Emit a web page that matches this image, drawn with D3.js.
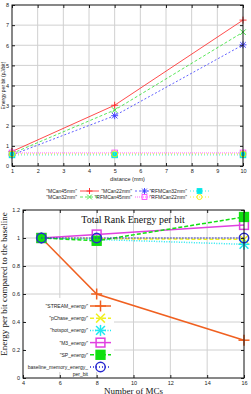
<!DOCTYPE html>
<html>
<head>
<meta charset="utf-8">
<script src="https://cdn.jsdelivr.net/npm/d3@7"></script>
<style>
  body { margin: 0; background: #fff; }
  text { font-family: "Liberation Sans", Arial, sans-serif; }
  .serif { font-family: "Liberation Serif", "Times New Roman", serif; }
</style>
</head>
<body>
<div id="chart"></div>
<script>
// top chart: energy per bit vs distance
const distances = [1, 5, 10];
const topNames = ['"MCan45mm"', '"MCan32mm"', '"MCan22mm"', '"RFMCan45mm"', '"RFMCan32mm"', '"RFMCan22mm"'];
const mcan45 = [0.72, 3.02, 7.25];
const mcan32 = [0.62, 2.78, 6.65];
const mcan22 = [0.55, 2.5, 6.02];
const rfmcan45 = [0.65, 0.65, 0.65];
const rfmcan32 = [0.55, 0.55, 0.55];
const rfmcan22 = [0.6, 0.6, 0.6];
const topXTicks = [1, 2, 3, 4, 5, 6, 7, 8, 9, 10];
const topYTicks = [0, 1, 2, 3, 4, 5, 6, 7, 8];

// bottom chart: total rank energy per bit
const numMCs = [5, 8, 16];
const botNames = ['"STREAM_energy"', '"pChase_energy"', '"hotspot_energy"', '"M3_energy"', '"SP_energy"', 'baseline_memory_energy_\nper_bit'];
const streamE = [1.0, 0.6, 0.27];
const pchaseE = [1.0, 0.995, 0.99];
const hotspotE = [1.0, 0.99, 0.955];
const m3E = [1.0, 1.025, 1.093];
const spE = [1.0, 0.98, 1.15];
const baselineE = [1.0, 1.0, 1.0];
const botXTicks = [4, 6, 8, 10, 12, 14, 16];
const botYTicks = [0, 0.2, 0.4, 0.6, 0.8, 1, 1.2];

const W = 251, H = 394;
const svg = d3.select("#chart").append("svg").attr("width", W).attr("height", H);

// draws a gnuplot style point
function marker(g, kind, cx, cy, r, color, sw) {
    const p = g.append("g").attr("transform", `translate(${cx},${cy})`)
        .attr("stroke", color).attr("stroke-width", sw).attr("fill", "none");
    if (kind === "plus" || kind === "star") {
        p.append("line").attr("x1", -r).attr("x2", r).attr("y1", 0).attr("y2", 0);
        p.append("line").attr("x1", 0).attr("x2", 0).attr("y1", -r).attr("y2", r);
    }
    if (kind === "cross" || kind === "star") {
        const k = r * 0.8;
        p.append("line").attr("x1", -k).attr("x2", k).attr("y1", -k).attr("y2", k);
        p.append("line").attr("x1", -k).attr("x2", k).attr("y1", k).attr("y2", -k);
    }
    if (kind === "square") {
        p.append("rect").attr("x", -r * 0.8).attr("y", -r * 0.8).attr("width", r * 1.6).attr("height", r * 1.6);
    }
    if (kind === "fsquare") {
        p.append("rect").attr("x", -r * 0.8).attr("y", -r * 0.8).attr("width", r * 1.6).attr("height", r * 1.6)
            .attr("fill", color);
    }
    if (kind === "circle") {
        p.append("circle").attr("r", r * 0.85);
    }
}

function grid(g, x, y, xt, yt, w, h) {
    g.selectAll(null).data(xt.slice(1, -1)).enter().append("line")
        .attr("x1", d => x(d)).attr("x2", d => x(d)).attr("y1", 0).attr("y2", h)
        .attr("stroke", "#d0d0d0").attr("stroke-width", 1);
    g.selectAll(null).data(yt.slice(1, -1)).enter().append("line")
        .attr("y1", d => y(d)).attr("y2", d => y(d)).attr("x1", 0).attr("x2", w)
        .attr("stroke", "#d0d0d0").attr("stroke-width", 1);
}

function frame(g, x, y, xt, yt, w, h, fs, fmt) {
    const ax = g.append("g").attr("transform", `translate(0,${h})`)
        .call(d3.axisBottom(x).tickValues(xt).tickSize(-3).tickPadding(3).tickFormat(d3.format("d")));
    const ay = g.append("g")
        .call(d3.axisLeft(y).tickValues(yt).tickSize(-3).tickPadding(3).tickFormat(fmt));
    const ax2 = g.append("g").call(d3.axisTop(x).tickValues(xt).tickSize(-3).tickFormat(""));
    const ay2 = g.append("g").attr("transform", `translate(${w},0)`)
        .call(d3.axisRight(y).tickValues(yt).tickSize(-3).tickFormat(""));
    [ax, ay, ax2, ay2].forEach(a => {
        a.select(".domain").remove();
        a.selectAll("text").attr("font-size", fs).attr("fill", "#222");
        a.selectAll("line").attr("stroke", "#222");
    });
    g.append("rect").attr("width", w).attr("height", h)
        .attr("fill", "none").attr("stroke", "#111").attr("stroke-width", 1);
}

// ---------- top chart ----------
{
    const m = {left: 12, top: 5}, w = 231, h = 161;
    const g = svg.append("g").attr("transform", `translate(${m.left},${m.top})`);
    const x = d3.scaleLinear().domain([1, 10]).range([0, w]);
    const y = d3.scaleLinear().domain([0, 8]).range([h, 0]);
    grid(g, x, y, topXTicks, topYTicks, w, h);

    const series = [
        {vals: mcan45, color: "#ff2020", dash: null, mk: "plus"},
        {vals: mcan32, color: "#30e030", dash: "3,2", mk: "cross"},
        {vals: mcan22, color: "#3838ff", dash: "2,2", mk: "star"},
        {vals: rfmcan45, color: "#ff40ff", dash: "1,1", mk: "square"},
        {vals: rfmcan32, color: "#00e8e8", dash: "1,2", mk: "fsquare"},
        {vals: rfmcan22, color: "#f0f000", dash: "1,2", mk: "circle"}
    ];
    const line = d3.line().x((d, i) => x(distances[i])).y(d => y(d));
    series.forEach(s => {
        g.append("path").datum(s.vals).attr("d", line).attr("fill", "none")
            .attr("stroke", s.color).attr("stroke-width", 0.8).attr("stroke-dasharray", s.dash);
        s.vals.forEach((v, i) => marker(g, s.mk, x(distances[i]), y(v), 3.5, s.color, 0.9));
    });
    frame(g, x, y, topXTicks, topYTicks, w, h, 5.5, d3.format("d"));

    g.append("text").attr("x", w / 2).attr("y", h + 15).attr("text-anchor", "middle")
        .attr("font-size", 5.5).attr("fill", "#222").text("distance (mm)");
    g.append("text").attr("transform", `translate(${-6.6},${h / 2}) rotate(-90)`)
        .attr("text-anchor", "middle").attr("font-size", 5).attr("fill", "#222")
        .text("Energy per bit (pJ/bit)");

    // legend, 3 columns x 2 rows filled column by column
    const lg = svg.append("g");
    series.forEach((s, i) => {
        const col = Math.floor(i / 2), row = i % 2;
        const tx = 77 + col * 55, ty = 191 + row * 6;
        lg.append("text").attr("x", tx).attr("y", ty + 2).attr("text-anchor", "end")
            .attr("font-size", 5).attr("fill", "#222").text(topNames[i]);
        lg.append("line").attr("x1", tx + 3).attr("x2", tx + 22).attr("y1", ty).attr("y2", ty)
            .attr("stroke", s.color).attr("stroke-width", 0.8).attr("stroke-dasharray", s.dash);
        marker(lg, s.mk, tx + 12.5, ty, 3, s.color, 0.9);
    });
}

// ---------- bottom chart ----------
{
    const m = {left: 23, top: 210}, w = 221, h = 168;
    const g = svg.append("g").attr("transform", `translate(${m.left},${m.top})`);
    const x = d3.scaleLinear().domain([4, 16]).range([0, w]);
    const y = d3.scaleLinear().domain([0, 1.2]).range([h, 0]);
    grid(g, x, y, botXTicks, botYTicks, w, h);

    const series = [
        {vals: streamE, color: "#f06020", dash: null, mk: "plus"},
        {vals: pchaseE, color: "#f0f020", dash: "4,2", mk: "cross"},
        {vals: hotspotE, color: "#20e8f0", dash: "1,1.5", mk: "star"},
        {vals: m3E, color: "#e040e0", dash: null, mk: "square"},
        {vals: spE, color: "#10e010", dash: "4,2", mk: "fsquare"},
        {vals: baselineE, color: "#2828d0", dash: "1,2", mk: "circle"}
    ];

    // legend box (white, covers grid)
    const lx = 90, ly0 = 306 - m.top, lstep = 12.2;
    g.append("rect").attr("x", 2).attr("y", ly0 - 8).attr("width", 112 - m.left).attr("height", 74)
        .attr("fill", "#fff");

    const line = d3.line().x((d, i) => x(numMCs[i])).y(d => y(d));
    series.forEach(s => {
        g.append("path").datum(s.vals).attr("d", line).attr("fill", "none")
            .attr("stroke", s.color).attr("stroke-width", 1.5).attr("stroke-dasharray", s.dash);
        s.vals.forEach((v, i) => marker(g, s.mk, x(numMCs[i]), y(v), 5.5, s.color, 1.5));
    });

    series.forEach((s, i) => {
        const ty = ly0 + i * lstep;
        const lines = botNames[i].split("\n");
        lines.forEach((t, j) => {
            g.append("text").attr("x", lx - m.left - 2).attr("y", ty + 2 + j * 6.5)
                .attr("text-anchor", "end").attr("font-size", 5).attr("fill", "#222").text(t);
        });
        g.append("line").attr("x1", lx - m.left).attr("x2", lx - m.left + 21).attr("y1", ty).attr("y2", ty)
            .attr("stroke", s.color).attr("stroke-width", 1.5).attr("stroke-dasharray", s.dash);
        marker(g, s.mk, lx - m.left + 10.5, ty, 5.5, s.color, 1.5);
    });

    frame(g, x, y, botXTicks, botYTicks, w, h, 5.5, d => d === 0 || d === 1 ? d3.format("d")(d) : d3.format(".1f")(d));

    g.append("text").attr("class", "serif").attr("x", 110).attr("y", 13).attr("text-anchor", "middle")
        .attr("font-size", 10).attr("fill", "#111").text("Total Rank Energy per bit");
    g.append("text").attr("class", "serif").attr("x", w / 2).attr("y", h + 15.5).attr("text-anchor", "middle")
        .attr("font-size", 9).attr("fill", "#111").text("Number of MCs");
    g.append("text").attr("class", "serif").attr("transform", `translate(${-16},${74}) rotate(-90)`)
        .attr("text-anchor", "middle").attr("font-size", 9).attr("fill", "#111")
        .text("Energy per bit compared to the baseline");
}
</script>
</body>
</html>
